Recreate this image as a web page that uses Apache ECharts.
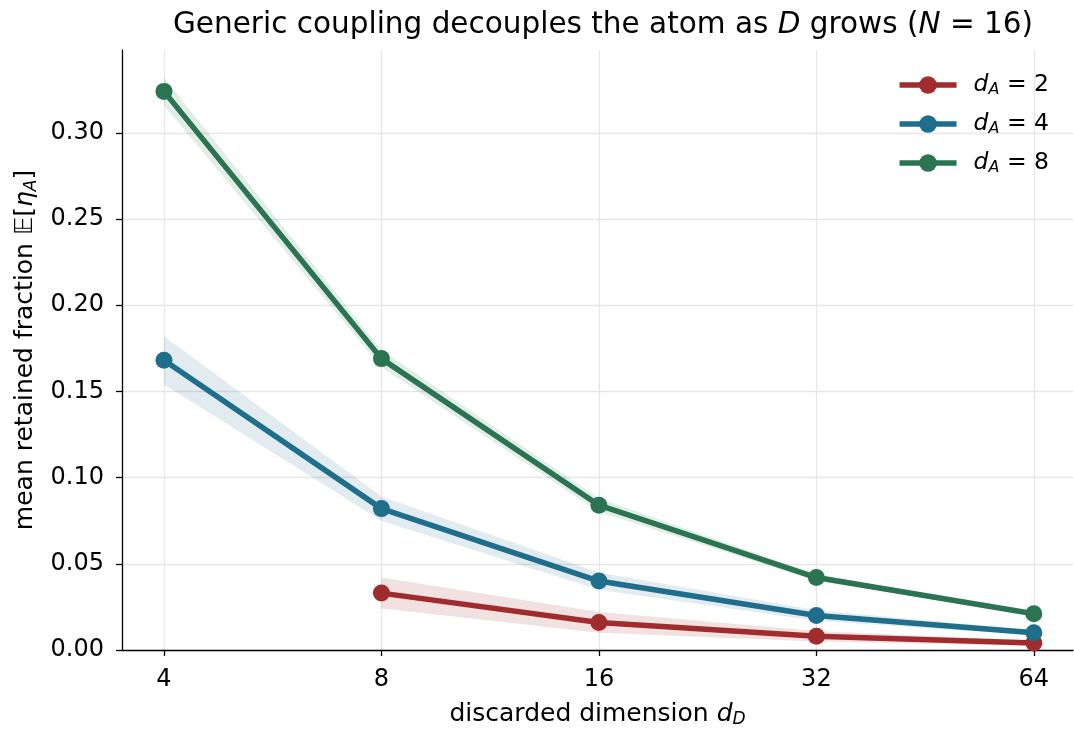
<!DOCTYPE html>
<html>
<head>
<meta charset="utf-8">
<script src="https://cdn.jsdelivr.net/npm/echarts@6/dist/echarts.min.js"></script>
<style>
  html, body { margin: 0; padding: 0; background: #fff; }
  #main { width: 1074px; height: 730px; }
</style>
</head>
<body>
<div id="main"></div>
<script>
// discarded dimension d_D (x axis, log2 spaced)
const dD = [4, 8, 16, 32, 64];
// mean retained fraction and band half-width, one pair per d_A
const mean2 = [null, 0.033, 0.016, 0.008, 0.004];
const err2 = [null, 0.009, 0.006, 0.003, 0.0015];
const mean4 = [0.168, 0.082, 0.040, 0.020, 0.010];
const err4 = [0.014, 0.007, 0.005, 0.003, 0.0015];
const mean8 = [0.324, 0.169, 0.084, 0.042, 0.021];
const err8 = [0.008, 0.005, 0.004, 0.002, 0.001];
const yTicks = [0, 0.05, 0.10, 0.15, 0.20, 0.25, 0.30];

const groups = [
  { dA: 2, mean: mean2, err: err2, color: '#a02c2d', band: 'rgba(160,44,45,0.14)' },
  { dA: 4, mean: mean4, err: err4, color: '#1f6e8b', band: 'rgba(31,110,139,0.13)' },
  { dA: 8, mean: mean8, err: err8, color: '#2a7451', band: 'rgba(42,116,81,0.13)' }
];

const font = 'DejaVu Sans';
const xTicks = dD.map(v => Math.log2(v));

let series = [];
groups.forEach((g, gi) => {
  let band = [], line = [];
  dD.forEach((d, i) => {
    if (g.mean[i] == null) return;
    let x = Math.log2(d);
    band.push([x, g.mean[i] - g.err[i], g.mean[i] + g.err[i]]);
    line.push([x, g.mean[i]]);
  });
  // 误差带：用 custom 画一个多边形
  series.push({
    type: 'custom', data: band, silent: true, z: 1,
    encode: { x: 0, y: [1, 2] },
    renderItem: function (params, api) {
      if (params.dataIndex !== 0) return;
      let upper = band.map(p => api.coord([p[0], p[2]]));
      let lower = band.map(p => api.coord([p[0], p[1]])).reverse();
      return {
        type: 'polygon',
        shape: { points: upper.concat(lower) },
        style: { fill: g.band }
      };
    }
  });
  series.push({
    name: 'd_A = ' + g.dA,
    type: 'line', data: line, symbol: 'circle', symbolSize: 17,
    color: g.color,
    lineStyle: { width: 5.5, color: g.color },
    itemStyle: { color: g.color },
    z: 3 + gi
  });
});

var myChart = echarts.init(document.getElementById('main'));
let option = {
  animation: false,
  textStyle: { fontFamily: font },
  title: {
    text: '{n|Generic coupling decouples the atom as }{i|D}{n| grows (}{i|N}{n| = 16)}',
    left: 598, textAlign: 'center', top: 5,
    textStyle: {
      fontWeight: 'normal',
      rich: {
        n: { fontFamily: font, fontSize: 29.5, color: '#000', fontWeight: 'normal' },
        i: { fontFamily: font, fontSize: 29.5, color: '#000', fontWeight: 'normal', fontStyle: 'italic' }
      }
    }
  },
  grid: { left: 122, right: 1, top: 50, bottom: 80, outerBoundsMode: 'none' },
  legend: {
    data: groups.map(g => 'd_A = ' + g.dA),
    orient: 'vertical',
    right: 20, top: 68,
    itemWidth: 57, itemHeight: 22, itemGap: 14,
    lineStyle: { width: 5.5 },
    formatter: function (name) {
      return '{g| }{i|d}{s|A}{n| = ' + name.split('= ')[1] + '}';
    },
    textStyle: {
      rich: {
        g: { width: 12, fontSize: 10 },
        n: { fontFamily: font, fontSize: 23.5, color: '#000' },
        i: { fontFamily: font, fontSize: 23.5, color: '#000', fontStyle: 'italic' },
        s: { fontFamily: font, fontSize: 16, color: '#000', fontStyle: 'italic', padding: [10, 0, 0, 0] }
      }
    }
  },
  xAxis: {
    type: 'value',
    min: 1.807, max: 6.18,
    name: '{n|discarded dimension }{i|d}{s|D}',
    nameLocation: 'middle', nameGap: 50,
    nameTextStyle: {
      rich: {
        n: { fontFamily: font, fontSize: 25, color: '#000' },
        i: { fontFamily: font, fontSize: 25, color: '#000', fontStyle: 'italic' },
        s: { fontFamily: font, fontSize: 17, color: '#000', fontStyle: 'italic', padding: [11, 0, 0, 0] }
      }
    },
    axisLine: { lineStyle: { color: '#000', width: 1.3 } },
    axisTick: { customValues: xTicks, length: 6, lineStyle: { color: '#000', width: 1.3 } },
    axisLabel: {
      customValues: xTicks, fontSize: 24, color: '#000', margin: 18,
      formatter: v => String(Math.round(Math.pow(2, v)))
    },
    splitLine: { show: true, lineStyle: { color: '#e6e6e6', width: 1.3 } }
  },
  yAxis: {
    type: 'value',
    min: 0, max: 0.348,
    name: '{n|mean retained fraction 𝔼[}{i|η}{s|A}{n|]}',
    nameLocation: 'middle', nameGap: 82, nameRotate: 90,
    nameTextStyle: {
      rich: {
        n: { fontFamily: font, fontSize: 25, color: '#000' },
        i: { fontFamily: font, fontSize: 25, color: '#000', fontStyle: 'italic' },
        s: { fontFamily: font, fontSize: 17, color: '#000', fontStyle: 'italic', padding: [11, 0, 0, 0] }
      }
    },
    axisLine: { show: true, lineStyle: { color: '#000', width: 1.3 } },
    axisTick: { show: true, customValues: yTicks, length: 6, lineStyle: { color: '#000', width: 1.3 } },
    axisLabel: {
      customValues: yTicks, fontSize: 24, color: '#000', margin: 18,
      formatter: v => v.toFixed(2)
    },
    splitLine: { show: true, lineStyle: { color: '#e6e6e6', width: 1.3 } }
  },
  series: series
};
myChart.setOption(option);
</script>
</body>
</html>
